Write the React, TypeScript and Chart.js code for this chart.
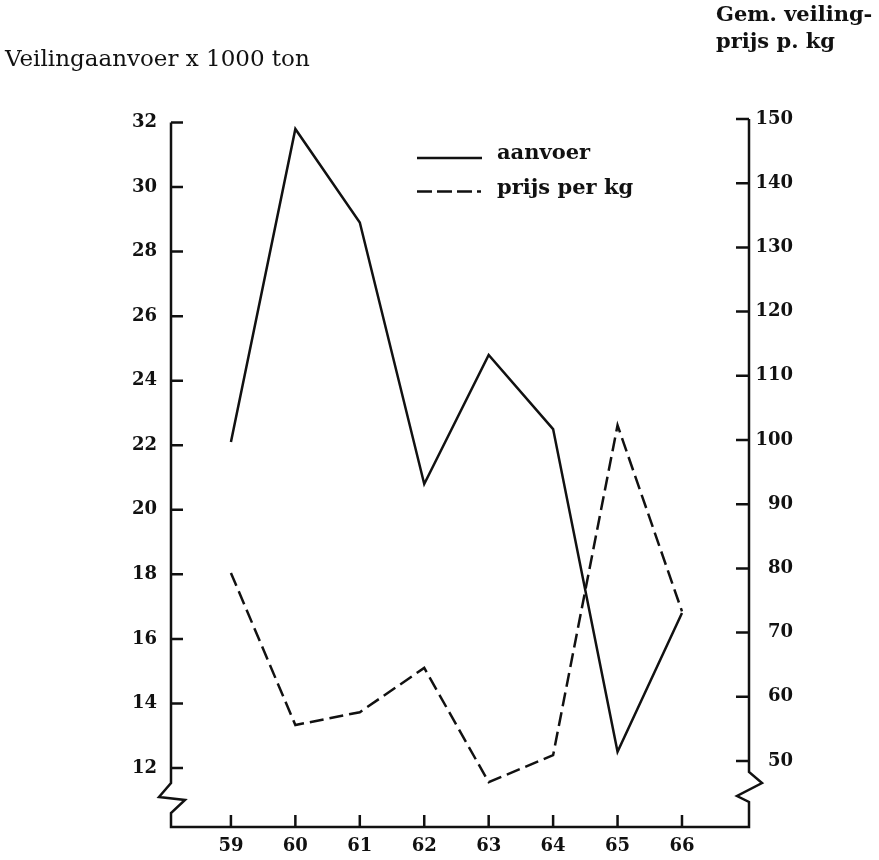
import React, { useEffect, useRef } from "react";
import { Chart, registerables } from "chart.js";

Chart.register(...registerables);

// ---- data ----
const years = [59, 60, 61, 62, 63, 64, 65, 66];
const aanvoer = [22.1, 31.8, 28.9, 20.8, 24.8, 22.5, 12.5, 16.8];
const prijsPerKg = [79.3, 55.6, 57.6, 64.5, 46.7, 50.9, 102.3, 73.3];
const leftTicks = [12, 14, 16, 18, 20, 22, 24, 26, 28, 30, 32];
const rightTicks = [50, 60, 70, 80, 90, 100, 110, 120, 130, 140, 150];
const leftAxisTitle = "Veilingaanvoer x 1000 ton";
const rightAxisTitle = ["Gem. veiling-", "prijs p. kg"];
const seriesNames = ["aanvoer", "prijs per kg"];

const INK = "#111111";
const SERIF = "'DejaVu Serif', serif";
const tickFont = { family: SERIF, size: 18, weight: "bold" as const };

const handAxes = {
  id: "handAxes",
  afterDraw(chart: any) {
    const { ctx, chartArea: a, scales } = chart;
    const yL = scales.y;
    const yR = scales.y1;
    const xs = scales.x;
    const L = a.left;
    const R = a.right;
    const B = a.bottom;
    ctx.save();
    ctx.strokeStyle = INK;
    ctx.fillStyle = INK;
    ctx.lineWidth = 2.5;
    ctx.lineJoin = "miter";
    ctx.miterLimit = 3;
    ctx.lineCap = "butt";
    const topL = yL.getPixelForValue(leftTicks[leftTicks.length - 1]);
    const topR = yR.getPixelForValue(rightTicks[rightTicks.length - 1]);
    // axis frame with breaks
    ctx.beginPath();
    ctx.moveTo(L, topL);
    ctx.lineTo(L, B - 44);
    ctx.lineTo(L - 12, B - 30);
    ctx.lineTo(L + 14, B - 27);
    ctx.lineTo(L, B - 14);
    ctx.lineTo(L, B);
    ctx.lineTo(R, B);
    ctx.lineTo(R, B - 25);
    ctx.lineTo(R - 12, B - 31);
    ctx.lineTo(R + 13, B - 44);
    ctx.lineTo(R, B - 55);
    ctx.lineTo(R, topR);
    ctx.stroke();
    // tick marks (inward)
    ctx.beginPath();
    leftTicks.forEach((v) => {
      const p = yL.getPixelForValue(v);
      ctx.moveTo(L, p);
      ctx.lineTo(L + 12, p);
    });
    rightTicks.forEach((v) => {
      const p = yR.getPixelForValue(v);
      ctx.moveTo(R, p);
      ctx.lineTo(R - 13, p);
    });
    years.forEach((v) => {
      const p = xs.getPixelForValue(v);
      ctx.moveTo(p, B);
      ctx.lineTo(p, B - 12);
    });
    ctx.stroke();

    // axis titles
    ctx.textBaseline = "middle";
    ctx.textAlign = "left";
    ctx.font = `normal 23px ${SERIF}`;
    ctx.fillText(leftAxisTitle, 5, 60);
    ctx.font = `bold 21px ${SERIF}`;
    ctx.fillText(rightAxisTitle[0], 716, 16);
    ctx.fillText(rightAxisTitle[1], 716, 43);

    // legend
    ctx.lineWidth = 2.5;
    ctx.beginPath();
    ctx.moveTo(417, 158);
    ctx.lineTo(482, 158);
    ctx.stroke();
    ctx.setLineDash([15, 5]);
    ctx.beginPath();
    ctx.moveTo(417, 191.5);
    ctx.lineTo(481, 191.5);
    ctx.stroke();
    ctx.setLineDash([]);
    ctx.font = `bold 21px ${SERIF}`;
    ctx.fillText(seriesNames[0], 497, 154);
    ctx.fillText(seriesNames[1], 497, 189);
    ctx.restore();
  },
};

export default function App() {
  const ref = useRef<HTMLCanvasElement | null>(null);
  useEffect(() => {
    if (!ref.current) return;
    Chart.defaults.font.family = SERIF;
    const chart = new Chart(ref.current, {
      type: "line",
      data: {
        datasets: [
          {
            label: seriesNames[0],
            data: years.map((y, i) => ({ x: y, y: aanvoer[i] })),
            yAxisID: "y",
            borderColor: INK,
            borderWidth: 2.5,
            pointRadius: 0,
            tension: 0,
            fill: false,
          },
          {
            label: seriesNames[1],
            data: years.map((y, i) => ({ x: y, y: prijsPerKg[i] })),
            yAxisID: "y1",
            borderColor: INK,
            borderWidth: 2.5,
            borderDash: [14, 6],
            pointRadius: 0,
            tension: 0,
            fill: false,
          },
        ],
      },
      options: {
        animation: false,
        responsive: false,
        events: [],
        layout: { padding: { top: 119, right: 86, left: 0, bottom: 0 } },
        plugins: {
          legend: { display: false },
          tooltip: { enabled: false },
          title: { display: false },
        },
        scales: {
          x: {
            type: "linear",
            position: "bottom",
            min: 58.07,
            max: 67.04,
            border: { display: false },
            grid: { display: false, drawTicks: false },
            afterBuildTicks: (s: any) => {
              s.ticks = years.map((v) => ({ value: v }));
            },
            afterFit: (s: any) => {
              s.height = 33;
            },
            ticks: {
              font: tickFont,
              color: INK,
              padding: 9,
              autoSkip: false,
              maxRotation: 0,
              callback: (v: any) => String(v),
            },
          },
          y: {
            type: "linear",
            position: "left",
            min: 10.172,
            max: 32.108,
            border: { display: false },
            grid: { display: false, drawTicks: false },
            afterBuildTicks: (s: any) => {
              s.ticks = leftTicks.map((v) => ({ value: v }));
            },
            afterFit: (s: any) => {
              s.width = 171;
            },
            ticks: {
              font: tickFont,
              color: INK,
              padding: 14,
              crossAlign: "near",
              callback: (v: any) => String(v),
            },
          },
          y1: {
            type: "linear",
            position: "right",
            min: 39.72,
            max: 150,
            border: { display: false },
            grid: { display: false, drawTicks: false },
            afterBuildTicks: (s: any) => {
              s.ticks = rightTicks.map((v) => ({ value: v }));
            },
            afterFit: (s: any) => {
              s.width = 44;
            },
            ticks: {
              font: tickFont,
              color: INK,
              padding: 0,
              crossAlign: "far",
              callback: (v: any) => String(v),
            },
          },
        },
      },
      plugins: [handAxes],
    });
    return () => chart.destroy();
  }, []);

  return (
    <div
      style={{
        position: "fixed",
        left: 0,
        top: 0,
        width: 879,
        height: 860,
        background: "#ffffff",
      }}
    >
      <canvas ref={ref} width={879} height={860} style={{ display: "block" }} />
    </div>
  );
}
